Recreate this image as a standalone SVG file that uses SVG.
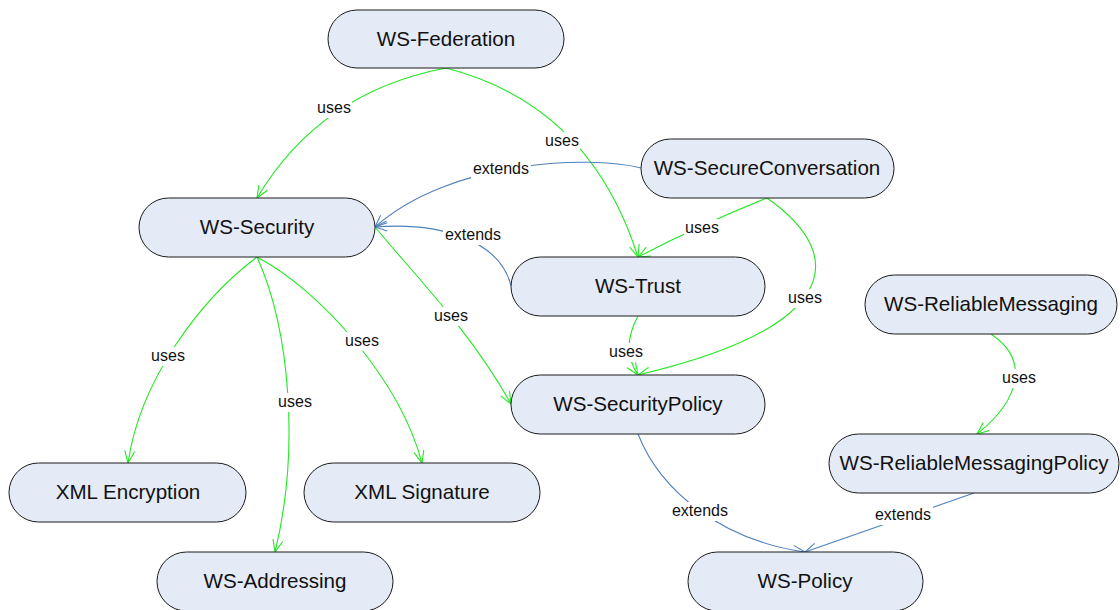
<svg xmlns="http://www.w3.org/2000/svg" width="1120" height="610" viewBox="0 0 1120 610">
  <style>
    .node rect { fill: #E5EBF6; stroke: #1a1a1a; stroke-width: 1; }
    .node text { font-family: "Liberation Sans", Arial, sans-serif; font-size: 20.6px; fill: #111; text-anchor: middle; }
    .uses { fill: none; stroke: #22E822; stroke-width: 1.1; marker-end: url(#arrowUses); }
    .extends { fill: none; stroke: #4F81BD; stroke-width: 1.1; marker-end: url(#arrowExt); }
    .lbl rect { fill: #fff; stroke: none; }
    .lbl text { font-family: "Liberation Sans", Arial, sans-serif; font-size: 16px; fill: #111; text-anchor: middle; }
  </style>
  <defs>
    <marker id="arrowUses" markerUnits="userSpaceOnUse" markerWidth="14" markerHeight="12" refX="13" refY="6" orient="auto">
      <path d="M1,1 L13,6 L1,11" fill="none" stroke="#22E822" stroke-width="1.1"/>
    </marker>
    <marker id="arrowExt" markerUnits="userSpaceOnUse" markerWidth="14" markerHeight="12" refX="13" refY="6" orient="auto">
      <path d="M1,1 L13,6 L1,11" fill="none" stroke="#4F81BD" stroke-width="1.1"/>
    </marker>
  </defs>
  <rect x="0" y="0" width="1120" height="610" fill="#fff"/>

  <!-- uses / extends relations -->
  <g id="connectors">
    <path class="uses" d="M446,68 Q320,92 257,198"/>
    <path class="uses" d="M446,68 Q590,105 638,257"/>
    <path class="extends" d="M641,168 C590,155 450,160 375,227"/>
    <path class="extends" d="M511,286 C500,240 440,222 375,227"/>
    <path class="uses" d="M767,198 Q700,225 638,257"/>
    <path class="uses" d="M767,198 C855,260 830,330 638,375"/>
    <path class="uses" d="M638,316 C625,340 628,360 638,375"/>
    <path class="uses" d="M375,227 C410,270 470,330 511,404"/>
    <path class="uses" d="M257,257 C200,300 140,380 128,463"/>
    <path class="uses" d="M257,257 C290,330 300,450 275,552"/>
    <path class="uses" d="M257,257 C320,290 400,380 422,463"/>
    <path class="extends" d="M638,434 C660,490 720,540 805,552"/>
    <path class="extends" d="M974,493 L805,552"/>
    <path class="uses" d="M991,334 C1030,360 1020,400 977,434"/>

    <g class="lbl"><rect x="316" y="99" width="36" height="19"/><text x="334" y="113">uses</text></g>
    <g class="lbl"><rect x="544" y="132" width="36" height="19"/><text x="562" y="146">uses</text></g>
    <g class="lbl"><rect x="471" y="160" width="60" height="19"/><text x="501" y="174">extends</text></g>
    <g class="lbl"><rect x="443" y="226" width="60" height="19"/><text x="473" y="240">extends</text></g>
    <g class="lbl"><rect x="684" y="219" width="36" height="19"/><text x="702" y="233">uses</text></g>
    <g class="lbl"><rect x="787" y="289" width="36" height="19"/><text x="805" y="303">uses</text></g>
    <g class="lbl"><rect x="608" y="343" width="36" height="19"/><text x="626" y="357">uses</text></g>
    <g class="lbl"><rect x="433" y="307" width="36" height="19"/><text x="451" y="321">uses</text></g>
    <g class="lbl"><rect x="150" y="347" width="36" height="19"/><text x="168" y="361">uses</text></g>
    <g class="lbl"><rect x="277" y="393" width="36" height="19"/><text x="295" y="407">uses</text></g>
    <g class="lbl"><rect x="344" y="332" width="36" height="19"/><text x="362" y="346">uses</text></g>
    <g class="lbl"><rect x="670" y="502" width="60" height="19"/><text x="700" y="516">extends</text></g>
    <g class="lbl"><rect x="873" y="506" width="60" height="19"/><text x="903" y="520">extends</text></g>
    <g class="lbl"><rect x="1001" y="369" width="36" height="19"/><text x="1019" y="383">uses</text></g>
  </g>

  <g id="ws-federation" class="node"><rect x="328" y="10" width="236" height="58" rx="29"/><text x="446" y="46">WS-Federation</text></g>
  <g id="ws-security" class="node"><rect x="139" y="198" width="236" height="59" rx="29.5"/><text x="257" y="234">WS-Security</text></g>
  <g id="ws-secureconversation" class="node"><rect x="641" y="139" width="253" height="59" rx="29.5"/><text x="767" y="175">WS-SecureConversation</text></g>
  <g id="ws-trust" class="node"><rect x="511" y="257" width="254" height="59" rx="29.5"/><text x="638" y="293">WS-Trust</text></g>
  <g id="ws-reliablemessaging" class="node"><rect x="865" y="275" width="252" height="59" rx="29.5"/><text x="991" y="311">WS-ReliableMessaging</text></g>
  <g id="ws-securitypolicy" class="node"><rect x="511" y="375" width="254" height="59" rx="29.5"/><text x="638" y="411">WS-SecurityPolicy</text></g>
  <g id="ws-reliablemessagingpolicy" class="node"><rect x="829" y="434" width="290" height="59" rx="29.5"/><text x="974" y="470">WS-ReliableMessagingPolicy</text></g>
  <g id="xml-encryption" class="node"><rect x="9" y="463" width="237" height="59" rx="29.5"/><text x="128" y="499">XML Encryption</text></g>
  <g id="xml-signature" class="node"><rect x="304" y="463" width="236" height="59" rx="29.5"/><text x="422" y="499">XML Signature</text></g>
  <g id="ws-addressing" class="node"><rect x="157" y="552" width="236" height="59" rx="29.5"/><text x="275" y="588">WS-Addressing</text></g>
  <g id="ws-policy" class="node"><rect x="688" y="552" width="235" height="59" rx="29.5"/><text x="805" y="588">WS-Policy</text></g>
</svg>
